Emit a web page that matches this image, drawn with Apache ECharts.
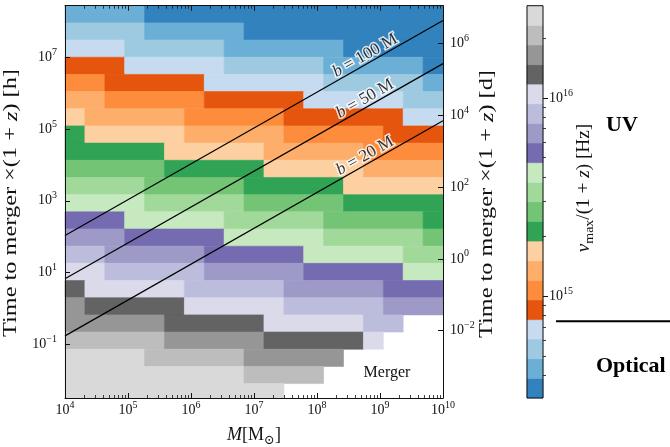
<!DOCTYPE html>
<html>
<head>
<meta charset="utf-8">
<script src="https://cdn.jsdelivr.net/npm/echarts@6/dist/echarts.min.js"></script>
<style>
  html, body { margin: 0; padding: 0; background: #fff; }
  #chart { width: 670px; height: 447px; }
</style>
</head>
<body>
<div id="chart"></div>
<script>
// Bin edges, log10 of the black-hole mass [M_sun]
const massEdgesLog = [4.000, 4.316, 4.632, 4.947, 5.263, 5.579, 5.895, 6.211, 6.526, 6.842,
  7.158, 7.474, 7.789, 8.105, 8.421, 8.737, 9.053, 9.368, 9.684, 10.000];

// Bin edges, log10 of the time to merger x (1+z) [h], from the top row down
const timeEdgesLog = [8.440, 7.961, 7.482, 7.003, 6.524, 6.045, 5.566, 5.087, 4.608, 4.129,
  3.650, 3.171, 2.692, 2.213, 1.734, 1.255, 0.776, 0.297, -0.182, -0.661,
  -1.140, -1.619, -2.098, -2.577];

// Frequency bin of nu_max/(1+z) in each cell (0 = lowest), one row per time bin,
// one entry per mass bin; null where the binary has already merged
const freqLevelRows = [
  [1, 1, 1, 1, 0, 0, 0, 0, 0, 0, 0, 0, 0, 0, 0, 0, 0, 0, 0],
  [2, 2, 2, 2, 1, 1, 1, 1, 1, 0, 0, 0, 0, 0, 0, 0, 0, 0, 0],
  [3, 3, 3, 2, 2, 2, 2, 2, 1, 1, 1, 1, 1, 1, 0, 0, 0, 0, 0],
  [4, 4, 4, 3, 3, 3, 3, 3, 2, 2, 2, 2, 2, 1, 1, 1, 1, 1, 0],
  [5, 5, 4, 4, 4, 4, 4, 3, 3, 3, 3, 3, 3, 2, 2, 2, 2, 2, 1],
  [6, 6, 5, 5, 5, 5, 5, 4, 4, 4, 4, 4, 3, 3, 3, 3, 3, 2, 2],
  [7, 6, 6, 6, 6, 6, 5, 5, 5, 5, 5, 4, 4, 4, 4, 4, 4, 3, 3],
  [8, 7, 7, 7, 7, 7, 6, 6, 6, 6, 6, 5, 5, 5, 5, 5, 4, 4, 4],
  [8, 8, 8, 8, 8, 7, 7, 7, 7, 7, 6, 6, 6, 6, 6, 5, 5, 5, 5],
  [9, 9, 9, 9, 9, 8, 8, 8, 8, 8, 7, 7, 7, 7, 7, 6, 6, 6, 6],
  [10, 10, 10, 10, 9, 9, 9, 9, 9, 8, 8, 8, 8, 8, 7, 7, 7, 7, 7],
  [11, 11, 11, 11, 10, 10, 10, 10, 10, 9, 9, 9, 9, 9, 8, 8, 8, 8, 8],
  [12, 12, 12, 11, 11, 11, 11, 11, 10, 10, 10, 10, 10, 9, 9, 9, 9, 9, 8],
  [13, 13, 13, 12, 12, 12, 12, 12, 11, 11, 11, 11, 11, 10, 10, 10, 10, 10, 9],
  [14, 14, 13, 13, 13, 13, 13, 12, 12, 12, 12, 12, 11, 11, 11, 11, 11, 10, 10],
  [15, 15, 14, 14, 14, 14, 14, 13, 13, 13, 13, 13, 12, 12, 12, 12, 12, 11, 11],
  [16, 15, 15, 15, 15, 15, 14, 14, 14, 14, 14, 13, 13, 13, 13, 13, 12, 12, 12],
  [17, 16, 16, 16, 16, 16, 15, 15, 15, 15, 15, 14, 14, 14, 14, 14, 13, 13, 13],
  [17, 17, 17, 17, 17, 16, 16, 16, 16, 16, 15, 15, 15, 15, 15, 14, 14, null, null],
  [18, 18, 18, 18, 18, 17, 17, 17, 17, 17, 16, 16, 16, 16, 16, 15, null, null, null],
  [19, 19, 19, 19, 18, 18, 18, 18, 18, 17, 17, 17, 17, 17, null, null, null, null, null],
  [19, 19, 19, 19, 19, 19, 19, 19, 19, 18, 18, 18, 18, null, null, null, null, null, null],
  [19, 19, 19, 19, 19, 19, 19, 19, 19, 19, 19, null, null, null, null, null, null, null, null]
];

// Colour-bar bin edges, log10 of nu_max/(1+z) [Hz]
const freqEdgesLog = [14.488, 14.587, 14.686, 14.785, 14.883, 14.982, 15.081, 15.180, 15.279,
  15.378, 15.477, 15.575, 15.674, 15.773, 15.872, 15.971, 16.070, 16.168, 16.267, 16.366, 16.465];

// One colour per frequency bin (tab20c), lowest frequency first
const palette = ['#3182bd', '#6baed6', '#9ecae1', '#c6dbef', '#e6550d', '#fd8d3c', '#fdae6b', '#fdd0a2',
  '#31a354', '#74c476', '#a1d99b', '#c7e9c0', '#756bb1', '#9e9ac8', '#bcbddc', '#dadaeb',
  '#636363', '#969696', '#bdbdbd', '#d9d9d9'];

// Binary separations of the reference lines, in units of M
const separations = [100, 50, 20];
const lineMassRange = [1e4, 1e10];

// Boundary between the UV and optical bands [Hz]
const uvOpticalBoundaryHz = 7.5e14;

// Labelled decades
const massTicksLog = [4, 5, 6, 7, 8, 9, 10];
const hourTicksLog = [-1, 1, 3, 5, 7];
const dayTicksLog = [-2, 0, 2, 4, 6];
const freqTicksLog = [15, 16];

// Axis limits (log10)
const massRangeLog = [4, 10];
const hourRangeLog = [-2.5, 8.44];
const LOG_HOURS_PER_DAY = Math.log10(24);
const dayRangeLog = [hourRangeLog[0] - LOG_HOURS_PER_DAY, hourRangeLog[1] - LOG_HOURS_PER_DAY];
const freqRangeLog = [freqEdgesLog[0], freqEdgesLog[freqEdgesLog.length - 1]];

// GW-driven inspiral time of an equal-mass binary at separation b (units of GM/c^2)
const GM_SUN_OVER_C3_HOURS = 4.925491e-6 / 3600;
const SYMMETRIC_MASS_RATIO = 0.25;
function mergerTimeHours(mass, b) {
  return 5 / (256 * SYMMETRIC_MASS_RATIO) * Math.pow(b, 4) * mass * GM_SUN_OVER_C3_HOURS;
}

const serif = '"Liberation Serif", "DejaVu Serif", serif';
const ink = '#111';

function minorLogTicks(lo, hi) {
  const out = [];
  for (let n = Math.floor(lo); n <= Math.ceil(hi); n++) {
    for (let k = 2; k <= 9; k++) {
      const v = n + Math.log10(k);
      if (v > lo + 1e-6 && v < hi - 1e-6) out.push(v);
    }
  }
  return out;
}

const powRich = {
  b: { fontFamily: serif, fontSize: 14, color: ink, lineHeight: 14, verticalAlign: 'bottom' },
  s: { fontFamily: serif, fontSize: 10, color: ink, lineHeight: 10, verticalAlign: 'bottom', padding: [0, 0, 7, 0] }
};
function powLabel(v) {
  const n = Math.round(v);
  return '{b|10}{s|' + (n < 0 ? '\u2212' + (-n) : n) + '}';
}

// Merge equal neighbouring bins of a row into one rectangle
const cellData = [];
freqLevelRows.forEach((row, i) => {
  let j = 0;
  while (j < row.length) {
    const lvl = row[j];
    let k = j;
    while (k + 1 < row.length && row[k + 1] === lvl) k++;
    if (lvl !== null) {
      cellData.push([massEdgesLog[j], massEdgesLog[k + 1], timeEdgesLog[i + 1], timeEdgesLog[i], lvl]);
    }
    j = k + 1;
  }
});

const colorbarData = palette.map((c, k) => [k, freqEdgesLog[k], freqEdgesLog[k + 1]]);

function renderCell(params, api) {
  const p0 = api.coord([api.value(0), api.value(3)]);
  const p1 = api.coord([api.value(1), api.value(2)]);
  const cs = params.coordSys;
  const rect = echarts.graphic.clipRectByRect(
    { x: p0[0], y: p0[1], width: p1[0] - p0[0], height: p1[1] - p0[1] },
    { x: cs.x, y: cs.y, width: cs.width, height: cs.height });
  if (!rect) return;
  const c = palette[api.value(4)];
  return { type: 'rect', shape: rect, style: { fill: c, stroke: c, lineWidth: 0.6 } };
}

function renderColorbarBin(params, api) {
  const cs = params.coordSys;
  const top = api.coord([0, api.value(2)])[1];
  const bottom = api.coord([0, api.value(1)])[1];
  const c = palette[api.value(0)];
  return { type: 'rect', shape: { x: cs.x, y: top, width: cs.width, height: bottom - top },
    style: { fill: c, stroke: c, lineWidth: 0.6 } };
}

function valueAxis(extra) {
  return Object.assign({
    type: 'value', gridIndex: 0, z: 10,
    splitLine: { show: false },
    axisLine: { show: false, onZero: false },
    axisTick: { show: false },
    axisLabel: { show: false }
  }, extra);
}
const frameLine = { show: true, onZero: false, lineStyle: { color: ink, width: 1 } };
const majorTick = (vals, inside) => ({ show: true, inside: inside, length: 5, customValues: vals, lineStyle: { color: ink, width: 1 } });
const minorTick = (vals, inside) => ({ show: true, inside: inside, length: 3, customValues: vals, lineStyle: { color: ink, width: 0.8 } });

const massMinor = minorLogTicks(massRangeLog[0], massRangeLog[1]);
const freqMinor = minorLogTicks(freqRangeLog[0], freqRangeLog[1]);

const xAxes = [
  valueAxis({ min: massRangeLog[0], max: massRangeLog[1], position: 'bottom', axisLine: frameLine,
    axisTick: majorTick(massTicksLog, true),
    axisLabel: { show: true, customValues: massTicksLog, formatter: powLabel, rich: powRich, margin: 5 } }),
  valueAxis({ min: massRangeLog[0], max: massRangeLog[1], position: 'bottom', axisTick: minorTick(massMinor, true) }),
  valueAxis({ min: massRangeLog[0], max: massRangeLog[1], position: 'top', axisLine: frameLine,
    axisTick: majorTick(massTicksLog, true) }),
  valueAxis({ min: massRangeLog[0], max: massRangeLog[1], position: 'top', axisTick: minorTick(massMinor, true) }),
  valueAxis({ gridIndex: 1, min: 0, max: 1, position: 'bottom' })
];

const yAxes = [
  valueAxis({ min: hourRangeLog[0], max: hourRangeLog[1], position: 'left', axisLine: frameLine,
    axisTick: majorTick(hourTicksLog, true),
    axisLabel: { show: true, customValues: hourTicksLog, formatter: powLabel, rich: powRich, margin: 8 } }),
  valueAxis({ min: dayRangeLog[0], max: dayRangeLog[1], position: 'right', axisLine: frameLine,
    axisTick: majorTick(dayTicksLog, true),
    axisLabel: { show: true, customValues: dayTicksLog, formatter: powLabel, rich: powRich, margin: 7 } }),
  valueAxis({ gridIndex: 1, min: freqRangeLog[0], max: freqRangeLog[1], position: 'right',
    axisTick: majorTick(freqTicksLog, false),
    axisLabel: { show: true, customValues: freqTicksLog, formatter: powLabel, rich: powRich, margin: 6 } }),
  valueAxis({ gridIndex: 1, min: freqRangeLog[0], max: freqRangeLog[1], position: 'right',
    axisTick: minorTick(freqMinor, false) })
];

const lineLabelMassLog = 8.88;
const lineSeries = [];
const labelPoints = [];
separations.forEach(b => {
  lineSeries.push({
    type: 'line', xAxisIndex: 0, yAxisIndex: 0, z: 5, silent: true,
    symbol: 'none', animation: false,
    lineStyle: { color: '#000', width: 1.2 },
    data: lineMassRange.map(m => [Math.log10(m), Math.log10(mergerTimeHours(m, b))])
  });
  labelPoints.push({
    value: [lineLabelMassLog, Math.log10(mergerTimeHours(Math.pow(10, lineLabelMassLog), b))],
    sep: b
  });
});

const halo = { textBorderColor: '#fff', textBorderWidth: 3 };
const lineLabelRich = {
  i: Object.assign({ fontFamily: serif, fontStyle: 'italic', fontSize: 17, color: '#000' }, halo),
  r: Object.assign({ fontFamily: serif, fontSize: 17, color: '#000' }, halo)
};

const chart = echarts.init(document.getElementById('chart'), null, { renderer: 'canvas', width: 670, height: 447 });

const option = {
  animation: false,
  backgroundColor: '#fff',
  grid: [
    { left: 65, top: 5.7, width: 378, height: 392.3, show: false },
    { left: 527, top: 5.7, width: 16, height: 392.3, show: true, z: 10,
      borderColor: ink, borderWidth: 1, backgroundColor: 'transparent' }
  ],
  xAxis: xAxes,
  yAxis: yAxes,
  series: [
    {
      type: 'custom', name: 'cells', xAxisIndex: 0, yAxisIndex: 0, z: 1, silent: true,
      renderItem: renderCell, encode: { x: [0, 1], y: [2, 3] }, data: cellData
    },
    {
      type: 'custom', name: 'colorbar', xAxisIndex: 4, yAxisIndex: 2, z: 1, silent: true,
      renderItem: renderColorbarBin, encode: { y: [1, 2] }, data: colorbarData
    },
    ...lineSeries,
    {
      type: 'scatter', xAxisIndex: 0, yAxisIndex: 0, z: 6, silent: true,
      symbolSize: 0,
      data: labelPoints,
      label: {
        show: true, position: 'inside', rotate: 29.6, offset: [-4, -8],
        formatter: p => '{i|b}{r| = ' + p.data.sep + ' M}',
        rich: lineLabelRich
      }
    }
  ]
};
chart.setOption(option);

// Annotations placed after the coordinate systems exist
const boundaryY = chart.convertToPixel({ yAxisIndex: 2 }, Math.log10(uvOpticalBoundaryHz));
const txt = (x, y, text, rich, opts) => Object.assign({
  type: 'text', x: x, y: y, z: 20,
  style: { text: text, align: 'center', verticalAlign: 'middle', rich: rich }
}, opts || {});
const titleRich = (size) => ({
  r: { fontFamily: serif, fontSize: size, fill: ink, verticalAlign: 'bottom', lineHeight: size + 1, padding: [0, 0, 3, 0] },
  i: { fontFamily: serif, fontSize: size, fontStyle: 'italic', fill: ink, verticalAlign: 'bottom', lineHeight: size + 1, padding: [0, 0, 3, 0] },
  sub: { fontFamily: serif, fontSize: Math.round(size * 0.7), fill: ink, verticalAlign: 'bottom', lineHeight: Math.round(size * 0.7) + 1 }
});
const boldRich = { t: { fontFamily: serif, fontSize: 22, fontWeight: 'bold', fill: '#000' } };
const mergerRich = { t: { fontFamily: serif, fontSize: 16, fill: ink } };
const vertical = { rotation: Math.PI / 2, scaleX: 1.28 };

chart.setOption({
  graphic: [
    txt(14, 203, '{r|Time to merger \u00d7(1 + }{i|z}{r|) [h]}', titleRich(19), vertical),
    txt(490, 204, '{r|Time to merger \u00d7(1 + }{i|z}{r|) [d]}', titleRich(19), vertical),
    txt(254, 438, '{i|M}{r|[M}{sub|\u2299}{r|]}', titleRich(18)),
    txt(587, 188, '{i|\u03bd}{sub|max}{r|/(1 + }{i|z}{r|) [Hz]}', titleRich(18), { rotation: Math.PI / 2, scaleX: 1.07 }),
    txt(387, 373, '{t|Merger}', mergerRich),
    txt(622, 125, '{t|UV}', boldRich),
    Object.assign(txt(596, 366, '{t|Optical}', boldRich), {
      style: { text: '{t|Optical}', align: 'left', verticalAlign: 'middle', rich: boldRich }
    }),
    {
      type: 'line', z: 20,
      shape: { x1: 556, y1: boundaryY, x2: 670, y2: boundaryY },
      style: { stroke: '#000', lineWidth: 2 }
    }
  ]
});
</script>
</body>
</html>
